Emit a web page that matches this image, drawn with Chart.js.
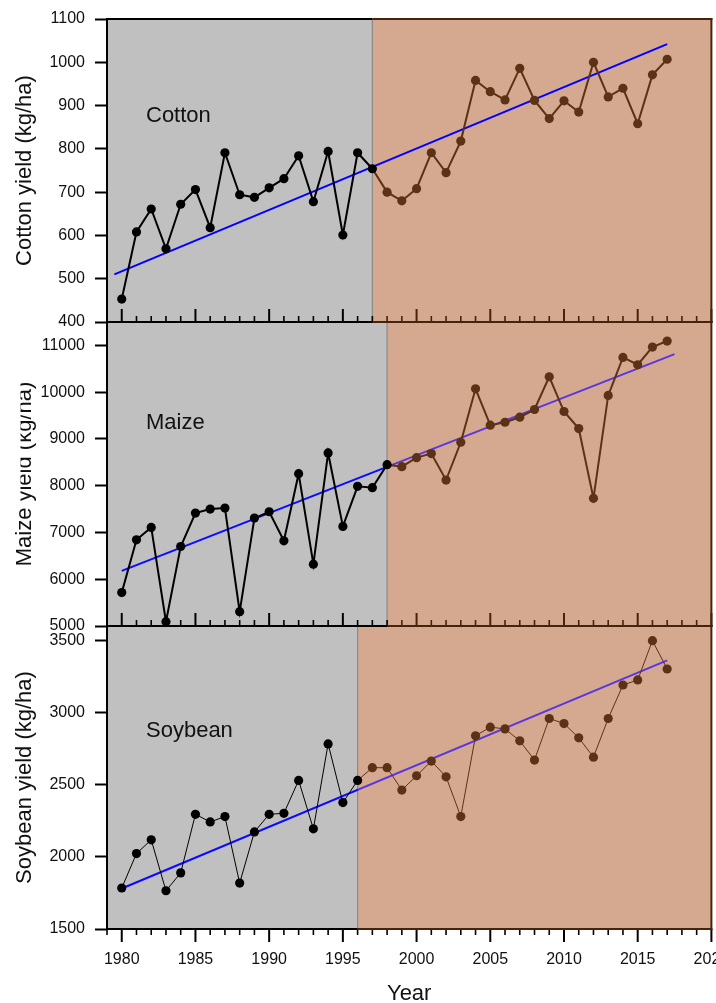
<!DOCTYPE html>
<html><head><meta charset="utf-8">
<script src="https://cdn.jsdelivr.net/npm/chart.js@4.4.1/dist/chart.umd.min.js"></script>
<style>
html,body{margin:0;padding:0;background:#fff;width:716px;height:1003px;overflow:hidden;}
canvas{position:absolute;left:0;top:0;}
</style></head><body>
<canvas id="c3" width="716" height="1003" style="z-index:1"></canvas>
<canvas id="c2" width="716" height="1003" style="z-index:2"></canvas>
<canvas id="c1" width="716" height="1003" style="z-index:3"></canvas>
<script>
// ---- data ----
const years = [1980,1981,1982,1983,1984,1985,1986,1987,1988,1989,1990,1991,1992,1993,1994,1995,1996,1997,1998,1999,2000,2001,2002,2003,2004,2005,2006,2007,2008,2009,2010,2011,2012,2013,2014,2015,2016,2017];
const cottonYield = [453,608,661,569,672,706,618,791,694,688,710,731,784,678,794,601,791,754,700,680,708,791,745,818,958,932,913,986,912,870,911,885,1000,920,940,858,971,1007];
const maizeYield = [5714,6843,7107,5093,6700,7415,7500,7521,5307,7307,7443,6822,8257,6322,8700,7129,7986,7957,8450,8407,8600,8686,8121,8929,10071,9293,9357,9464,9629,10329,9586,9222,7729,9929,10743,10586,10964,11093];
const soybeanYield = [1784,2023,2118,1765,1889,2295,2242,2279,1818,2173,2295,2302,2530,2194,2783,2376,2530,2618,2618,2463,2562,2664,2555,2279,2839,2899,2887,2804,2671,2959,2924,2825,2691,2959,3191,3226,3498,3302];
const cottonTrendYears = [1979.5, 2017];
const cottonTrend = [510, 1042];
const maizeTrendYears = [1980, 2017.5];
const maizeTrend = [6178, 10814];
const soybeanTrendYears = [1980, 2017];
const soybeanTrend = [1781, 3362];
const periodBreaks = [1997, 1998, 1996];
const cropNames = ['Cotton', 'Maize', 'Soybean'];
const yTitles = ['Cotton yield (kg/ha)', 'Maize yield (kg/ha)', 'Soybean yield (kg/ha)'];
const cottonTicks = [400,500,600,700,800,900,1000,1100];
const maizeTicks = [5000,6000,7000,8000,9000,10000,11000];
const soybeanTicks = [1500,2000,2500,3000,3500];
const yearTicks = [1980,1985,1990,1995,2000,2005,2010,2015,2020];

// ---- styles ----
const FONT = '"Liberation Sans", Arial, sans-serif';
const GRAY = '#c0c0c0';
const BROWN = '#d5a98f';
const DARK = '#5c3216';
const AXIS_DARK = '#45230d';
const TXT = '#111';

const panelPlugin = {
  id: 'panel',
  beforeDraw(chart, args, o) {
    const {ctx, chartArea: a, scales: {x}} = chart;
    const bx = x.getPixelForValue(o.breakYear);
    ctx.save();
    ctx.fillStyle = GRAY;
    ctx.fillRect(a.left, a.top, bx - a.left, a.bottom - a.top);
    ctx.fillStyle = BROWN;
    ctx.fillRect(bx, a.top, a.right - bx, a.bottom - a.top);
    ctx.strokeStyle = '#8a8a8a';
    ctx.lineWidth = 1.2;
    ctx.beginPath(); ctx.moveTo(bx, a.top); ctx.lineTo(bx, a.bottom); ctx.stroke();
    ctx.restore();
  },
  beforeDatasetsDraw(chart, args, o) {
    const {ctx, chartArea: a, scales: {x}} = chart;
    const bx = x.getPixelForValue(o.breakYear);
    ctx.save();
    ctx.lineCap = 'butt';
    // x ticks
    for (let yr = 1979; yr <= 2020; yr++) {
      const px = x.getPixelForValue(yr);
      const major = yr % 5 === 0;
      const len = major ? 13 : 6;
      ctx.lineWidth = major ? 2 : 1.6;
      if (o.inward) {
        ctx.strokeStyle = px <= bx + 0.5 ? '#000' : AXIS_DARK;
        ctx.beginPath(); ctx.moveTo(px, a.bottom); ctx.lineTo(px, a.bottom - len); ctx.stroke();
      } else {
        ctx.strokeStyle = '#000';
        ctx.beginPath(); ctx.moveTo(px, a.bottom); ctx.lineTo(px, a.bottom + len); ctx.stroke();
      }
    }
    // frame
    ctx.lineWidth = 2;
    const hline = (y) => {
      ctx.strokeStyle = '#000';
      ctx.beginPath(); ctx.moveTo(a.left - 1, y); ctx.lineTo(bx, y); ctx.stroke();
      ctx.strokeStyle = AXIS_DARK;
      ctx.beginPath(); ctx.moveTo(bx, y); ctx.lineTo(a.right + 1, y); ctx.stroke();
    };
    hline(a.top); hline(a.bottom);
    ctx.strokeStyle = '#000';
    ctx.beginPath(); ctx.moveTo(a.left, a.top - 1); ctx.lineTo(a.left, a.bottom + 1); ctx.stroke();
    ctx.strokeStyle = AXIS_DARK;
    ctx.beginPath(); ctx.moveTo(a.right, a.top - 1); ctx.lineTo(a.right, a.bottom + 1); ctx.stroke();
    // crop label
    ctx.fillStyle = TXT;
    ctx.font = '22px ' + FONT;
    ctx.textAlign = 'left';
    ctx.textBaseline = 'middle';
    ctx.fillText(o.name, 146, a.top + o.labelDy);
    ctx.restore();
  },
  afterDraw(chart, args, o) {
    // the reference shows the top of part of this axis title cut off
    if (!o.titleCut) return;
    const c = o.titleCut;
    chart.ctx.save();
    chart.ctx.fillStyle = '#fff';
    chart.ctx.fillRect(c[0], c[1], c[2], c[3]);
    chart.ctx.restore();
  }
};

function makeChart(id, idx, vals, tYears, tVals, yMin, yMax, yTicks, pad, bottomAxis, labelDy, lineW, trendSplit, titleCut) {
  const brk = periodBreaks[idx];
  const seriesPts = years.map((yr, i) => ({x: yr, y: vals[i]}));
  const trendPts = tYears.map((yr, i) => ({x: yr, y: tVals[i]}));
  const trendColor = (c) => {
    const chart = c.chart;
    const a = chart.chartArea;
    if (!a || !trendSplit) return '#0000ff';
    const bx = chart.scales.x.getPixelForValue(brk);
    const g = chart.ctx.createLinearGradient(a.left, 0, a.right, 0);
    const t = Math.min(1, Math.max(0, (bx - a.left) / (a.right - a.left)));
    g.addColorStop(0, '#0a0aff'); g.addColorStop(t, '#0a0aff');
    g.addColorStop(t, '#5a36e0'); g.addColorStop(1, '#5a36e0');
    return g;
  };
  return new Chart(document.getElementById(id), {
    type: 'line',
    data: {
      datasets: [
        {
          data: seriesPts,
          borderWidth: lineW,
          borderColor: '#000',
          segment: { borderColor: s => (s.p1.parsed.x > brk ? DARK : '#000') },
          pointRadius: 4.6,
          pointBorderWidth: 0,
          pointBackgroundColor: c => (c.raw && c.raw.x > brk ? DARK : '#000'),
          tension: 0,
          clip: false
        },
        {
          data: trendPts,
          borderWidth: 2,
          borderColor: trendColor,
          pointRadius: 0,
          tension: 0,
          clip: false
        }
      ]
    },
    options: {
      responsive: false,
      animation: false,
      events: [],
      layout: { padding: pad },
      plugins: {
        legend: { display: false },
        tooltip: { enabled: false },
        panel: { breakYear: brk, name: cropNames[idx], inward: !bottomAxis, labelDy: labelDy, titleCut: titleCut || null }
      },
      scales: {
        x: {
          type: 'linear', min: 1979, max: 2020,
          display: bottomAxis,
          afterBuildTicks: s => { s.ticks = yearTicks.map(v => ({value: v})); },
          afterFit: s => { s.height = bottomAxis ? 74 : 0; s.paddingLeft = 0; s.paddingRight = 0; },
          border: { display: false },
          grid: { display: false, drawTicks: false },
          ticks: { autoSkip: false, maxRotation: 0, minRotation: 0, padding: 21, color: TXT,
                   font: { family: FONT, size: 16 }, callback: v => String(v) },
          title: { display: true, text: 'Year', color: TXT, font: { family: FONT, size: 22, lineHeight: 0.8 }, padding: 0 }
        },
        y: {
          min: yMin, max: yMax,
          afterBuildTicks: s => { s.ticks = yTicks.map(v => ({value: v})); },
          afterFit: s => { s.width = 107; s.paddingTop = 0; s.paddingBottom = 0; },
          border: { display: false },
          grid: { display: true, drawOnChartArea: false, drawTicks: true, tickLength: 12, tickWidth: 2, tickColor: '#000' },
          ticks: { autoSkip: false, padding: 10, color: TXT, font: { family: FONT, size: 16 }, callback: v => String(v) },
          title: { display: true, text: yTitles[idx], color: TXT, font: { family: FONT, size: 22 }, padding: { top: 12, bottom: 0 } }
        }
      }
    },
    plugins: [panelPlugin]
  });
}

makeChart('c1', 0, cottonYield, cottonTrendYears, cottonTrend, 400, 1100, cottonTicks,
  {top: 19, bottom: 681, left: 0, right: 4}, false, 96.7, 2, false);
makeChart('c2', 1, maizeYield, maizeTrendYears, maizeTrend, 5000, 11500, maizeTicks,
  {top: 322, bottom: 377, left: 0, right: 4}, false, 101, 2, true, [6, 374, 14.5, 130]);
makeChart('c3', 2, soybeanYield, soybeanTrendYears, soybeanTrend, 1500, 3600, soybeanTicks,
  {top: 626, bottom: 0, left: 0, right: 4}, true, 104.8, 1, true);
</script>
</body></html>
